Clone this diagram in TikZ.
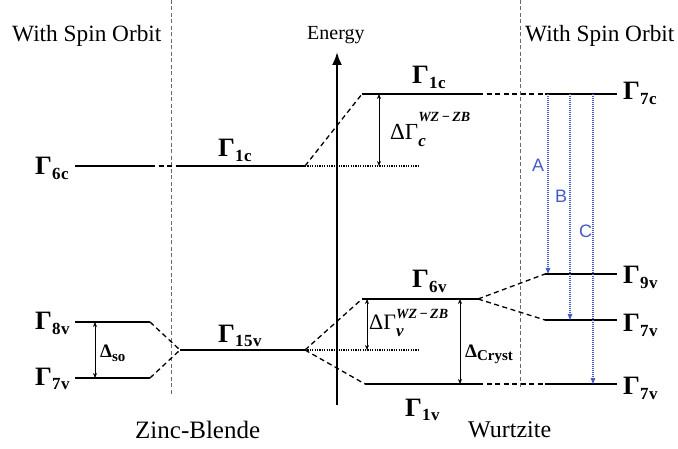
\documentclass[tikz,border=0pt]{standalone}
\usepackage{fontspec}
\setmainfont{Liberation Serif}
\newfontfamily\abcfont{Liberation Sans}
\usetikzlibrary{arrows.meta}
\definecolor{transblue}{RGB}{70,90,200}
\definecolor{sepgray}{RGB}{105,105,105}

\newcommand{\lvl}[1]{\textbf{Γ\raisebox{-4.5pt}{\fontsize{17}{17}\selectfont\addfontfeature{LetterSpace=3} #1}}}
\newcommand{\dgam}[3]{ΔΓ\makebox[0pt][l]{\raisebox{#3}{\fontsize{14}{14}\selectfont\bfseries\itshape WZ\,−\,ZB}}\raisebox{-7pt}{\fontsize{17}{17}\selectfont\bfseries\itshape #1}\hspace{#2}}

\begin{document}
\begin{tikzpicture}[
    x=1pt, y=-1pt,
    level/.style={line width=2.5pt},
    link/.style={line width=1.3pt, dash pattern=on 5pt off 3.5pt},
    sep/.style={sepgray, line width=0.9pt, dash pattern=on 4pt off 2.5pt},
    ref/.style={line width=1.3pt, dash pattern=on 1.2pt off 1.2pt},
    gap/.style={{Stealth[length=5pt,width=4pt]}-{Stealth[length=5pt,width=4pt]}, line width=0.8pt},
    trans/.style={transblue, line width=1.1pt, dash pattern=on 1.1pt off 0.9pt, -{Triangle[length=6pt,width=4.5pt]}},
    lab/.style={anchor=base west, inner sep=0pt},
    lvllab/.style={lab, font=\fontsize{26.5}{27}\selectfont},
    head/.style={lab, font=\fontsize{23.3}{24}\selectfont},
    abc/.style={lab, text=transblue, font=\abcfont\fontsize{18}{18}\selectfont}
]
\useasboundingbox (0,0) rectangle (678,449);

% Headings
\node[head] (soleft) at (12,42) {With Spin Orbit};
\node[head] (soright) at (525,42) {With Spin Orbit};
\node[lab, font=\fontsize{20}{20}\selectfont] (energy) at (307,40) {Energy};
\node[lab, font=\fontsize{25}{25}\selectfont] (zb) at (135,438) {Zinc-Blende};
\node[lab, font=\fontsize{24}{24}\selectfont] (wz) at (468,437) {Wurtzite};

% Separators and energy axis
\coordinate (sepLtop) at (171,0);
\coordinate (sepLbot) at (171,395);
\coordinate (sepRtop) at (520,0);
\coordinate (sepRbot) at (520,390);
\draw[sep] (sepLtop) -- (sepLbot);
\draw[sep] (sepRtop) -- (sepRbot);
\coordinate (axbot) at (337,405);
\coordinate (axtop) at (337,52);
\draw[line width=2.2pt, -{Latex[length=13pt,width=10pt]}] (axbot) -- (axtop);

% Level end points
\coordinate (so6cL) at (75,166);   \coordinate (so6cR) at (150,166);
\coordinate (so8vL) at (75,322);   \coordinate (so8vR) at (150,322);
\coordinate (so7vL) at (75,378);   \coordinate (so7vR) at (150,378);
\coordinate (zb1cL) at (180,166);  \coordinate (zb1cR) at (305,166);
\coordinate (zb15vL) at (180,350); \coordinate (zb15vR) at (305,350);
\coordinate (wz1cL) at (362,94);   \coordinate (wz1cR) at (478,94);
\coordinate (wz6vL) at (362,299);  \coordinate (wz6vR) at (478,299);
\coordinate (wz1vL) at (365,384);  \coordinate (wz1vR) at (478,384);
\coordinate (ws7cL) at (545,94);   \coordinate (ws7cR) at (617,94);
\coordinate (ws9vL) at (545,274);  \coordinate (ws9vR) at (617,274);
\coordinate (ws7vaL) at (545,320); \coordinate (ws7vaR) at (617,320);
\coordinate (ws7vbL) at (545,384); \coordinate (ws7vbR) at (617,384);
\coordinate (zb1cref) at (420,166);
\coordinate (zb15vref) at (420,350);

% Dashed links
\draw[link] (so6cR) -- (zb1cL);
\draw[link] (so8vR) -- (zb15vL);
\draw[link] (so7vR) -- (zb15vL);
\draw[link] (zb1cR) -- (wz1cL);
\draw[link] (zb15vR) -- (wz6vL);
\draw[link] (zb15vR) -- (wz1vL);
\draw[link] (wz1cR) -- (ws7cL);
\draw[link] (wz6vR) -- (ws9vL);
\draw[link] (wz6vR) -- (ws7vaL);
\draw[link] (wz1vR) -- (ws7vbL);
\draw[ref] (zb1cR) -- (zb1cref);
\draw[ref] (zb15vR) -- (zb15vref);

% Levels
\foreach \a in {so6c, so8v, so7v, zb1c, zb15v, wz1c, wz6v, wz1v, ws7c, ws9v, ws7va, ws7vb}
    \draw[level] (\a L) -- (\a R);

% Level labels
\node[lvllab] (l6c) at (35,175) {\lvl{6c}};
\node[lvllab] (l8v) at (35,330) {\lvl{8v}};
\node[lvllab] (l7v) at (35,385) {\lvl{7v}};
\node[lvllab] (lzb1c) at (218,157) {\lvl{1c}};
\node[lvllab] (l15v) at (218,342) {\lvl{15v}};
\node[lvllab] (lwz1c) at (412,84) {\lvl{1c}};
\node[lvllab] (l6v) at (412,288) {\lvl{6v}};
\node[lvllab] (l1v) at (405,416) {\lvl{1v}};
\node[lvllab] (l7c) at (623,100) {\lvl{7c}};
\node[lvllab] (l9v) at (623,284) {\lvl{9v}};
\node[lvllab] (l7va) at (623,332) {\lvl{7v}};
\node[lvllab] (l7vb) at (623,395) {\lvl{7v}};

% Splittings
\coordinate (dsoT) at (95,322);  \coordinate (dsoB) at (95,378);
\coordinate (dcT) at (379,94);   \coordinate (dcB) at (379,166);
\coordinate (dvT) at (367,299);  \coordinate (dvB) at (367,350);
\coordinate (dcrT) at (460,299); \coordinate (dcrB) at (460,384);
\draw[gap] (dsoT) -- (dsoB);
\draw[gap] (dcT) -- (dcB);
\draw[gap] (dvT) -- (dvB);
\draw[gap] (dcrT) -- (dcrB);
\node[lab, font=\fontsize{19}{19}\selectfont\bfseries] (lso) at (100,358) {Δ\raisebox{-3pt}{\fontsize{15}{15}\selectfont so}};
\node[lab, font=\fontsize{19}{19}\selectfont\bfseries] (lcr) at (465,357) {Δ\raisebox{-3pt}{\fontsize{15}{15}\selectfont Cryst}};
\node[lab, font=\fontsize{23}{23}\selectfont] (ldc) at (390,140) {\dgam{c}{45pt}{18pt}};
\node[lab, font=\fontsize{22}{22}\selectfont] (ldv) at (369,330) {\dgam{v}{45pt}{11pt}};

% Transitions
\coordinate (tAtop) at (548,94);  \coordinate (tAbot) at (548,274);
\coordinate (tBtop) at (570,94);  \coordinate (tBbot) at (570,320);
\coordinate (tCtop) at (593,94);  \coordinate (tCbot) at (593,384);
\draw[trans] (tAtop) -- (tAbot);
\draw[trans] (tBtop) -- (tBbot);
\draw[trans] (tCtop) -- (tCbot);
\node[abc] (lA) at (532,172) {A};
\node[abc] (lB) at (555,203) {B};
\node[abc] (lC) at (579,238) {C};

\end{tikzpicture}
\end{document}
